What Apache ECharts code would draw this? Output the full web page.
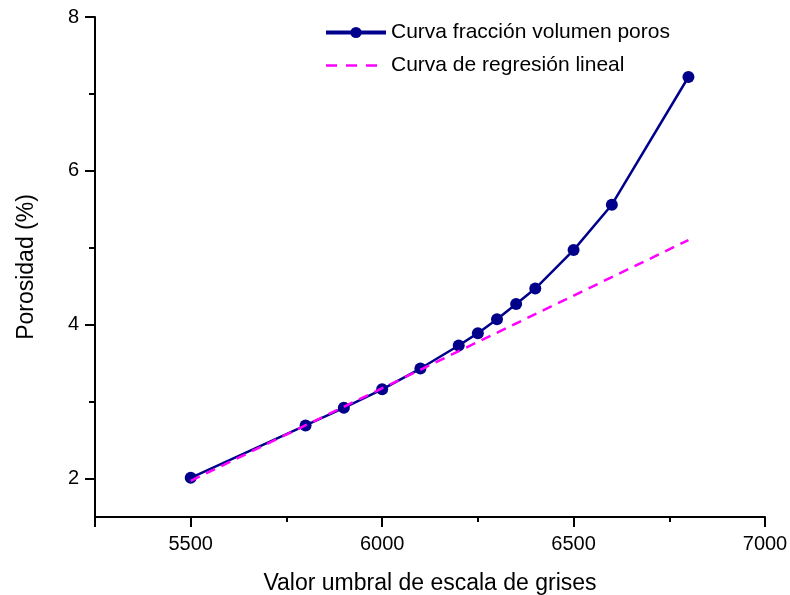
<!DOCTYPE html>
<html>
<head>
<meta charset="utf-8">
<script src="https://cdn.jsdelivr.net/npm/echarts@6/dist/echarts.min.js"></script>
<style>
html,body{margin:0;padding:0;background:#fff;overflow:hidden;}
#chart{width:790px;height:595px;}
</style>
</head>
<body>
<div id="chart"></div>
<script>
// Data
const umbral = [5500, 5800, 5900, 6000, 6100, 6200, 6250, 6300, 6350, 6400, 6500, 6600, 6800];
const porosidad = [2.01, 2.69, 2.92, 3.16, 3.43, 3.73, 3.89, 4.07, 4.27, 4.47, 4.97, 5.56, 7.22];
const regresionX = [5500, 6800];
const regresionY = [1.97, 5.10];
const xMajorTicks = [5250, 5500, 6000, 6500, 7000];
const xLabels = [5500, 6000, 6500, 7000];
const xMinorTicks = [5750, 6250, 6750];
const yMajorTicks = [2, 4, 6, 8];
const yMinorTicks = [3, 5, 7];
const serieNames = ['Curva fracción volumen poros', 'Curva de regresión lineal'];
const xName = 'Valor umbral de escala de grises';
const yName = 'Porosidad (%)';

const FONT = 'Liberation Sans, Arial, sans-serif';
const chart = echarts.init(document.getElementById('chart'), null, {renderer: 'canvas', width: 790, height: 595});

const axisLineStyle = {color: '#000', width: 2};

chart.setOption({
  animation: false,
  backgroundColor: '#fff',
  grid: {left: 95, right: 25, top: 17, bottom: 78, containLabel: false, outerBoundsMode: 'none'},
  legend: {
    orient: 'vertical',
    left: 324,
    top: 22,
    padding: 0,
    itemWidth: 60,
    itemHeight: 14,
    itemGap: 12,
    textStyle: {fontFamily: FONT, fontSize: 21, color: '#000', lineHeight: 20},
    data: [
      {name: serieNames[0], lineStyle: {width: 4, color: '#00008B'}},
      {name: serieNames[1], itemStyle: {color: 'rgba(0,0,0,0)', borderWidth: 0, opacity: 0}, lineStyle: {color: '#FF00FF', width: 2.5, type: [11, 9]}}
    ]
  },
  xAxis: [
    {
      type: 'value', min: 5250, max: 7000, position: 'bottom',
      name: xName, nameLocation: 'middle', nameGap: 55, nameMoveOverlap: false,
      nameTextStyle: {fontFamily: FONT, fontSize: 23, color: '#000'},
      axisLine: {show: true, lineStyle: axisLineStyle},
      axisTick: {show: true, length: 10, lineStyle: axisLineStyle, customValues: xMajorTicks},
      axisLabel: {show: true, customValues: xLabels, margin: 17, fontFamily: FONT, fontSize: 20, color: '#000', formatter: v => String(v)},
      splitLine: {show: false}
    },
    {
      type: 'value', min: 5250, max: 7000, position: 'bottom',
      axisLine: {show: false},
      axisTick: {show: true, length: 5, lineStyle: axisLineStyle, customValues: xMinorTicks},
      axisLabel: {show: false},
      splitLine: {show: false}
    }
  ],
  yAxis: [
    {
      type: 'value', min: 1.5, max: 8, position: 'left',
      name: yName, nameLocation: 'middle', nameGap: 57, nameRotate: 90, nameMoveOverlap: false,
      nameTextStyle: {fontFamily: FONT, fontSize: 23, color: '#000'},
      axisLine: {show: true, lineStyle: axisLineStyle},
      axisTick: {show: true, length: 10, lineStyle: axisLineStyle, customValues: yMajorTicks},
      axisLabel: {show: true, customValues: yMajorTicks, margin: 16, fontFamily: FONT, fontSize: 20, color: '#000', formatter: v => String(v)},
      splitLine: {show: false}
    },
    {
      type: 'value', min: 1.5, max: 8, position: 'left',
      axisLine: {show: false},
      axisTick: {show: true, length: 6, lineStyle: axisLineStyle, customValues: yMinorTicks},
      axisLabel: {show: false},
      splitLine: {show: false}
    }
  ],
  series: [
    {
      name: serieNames[0],
      type: 'line',
      xAxisIndex: 0, yAxisIndex: 0,
      data: umbral.map((x, i) => [x, porosidad[i]]),
      symbol: 'circle',
      symbolSize: 12,
      color: '#00008B',
      itemStyle: {color: '#00008B'},
      lineStyle: {color: '#00008B', width: 2.5},
      z: 2
    },
    {
      name: serieNames[1],
      type: 'line',
      xAxisIndex: 0, yAxisIndex: 0,
      data: regresionX.map((x, i) => [x, regresionY[i]]),
      symbol: 'none',
      showSymbol: false,
      color: '#FF00FF',
      itemStyle: {color: '#FF00FF'},
      lineStyle: {color: '#FF00FF', width: 2.5, type: [10, 7]},
      z: 3
    }
  ]
});
</script>
</body>
</html>
